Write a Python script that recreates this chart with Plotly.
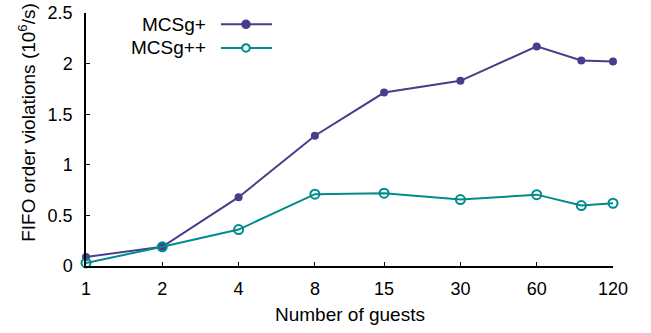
import plotly.graph_objects as go

guests = [1, 2, 4, 8, 15, 30, 60, 90, 120]
mcsg_plus = [0.09, 0.19, 0.68, 1.287, 1.714, 1.83, 2.17, 2.03, 2.02]
mcsg_plusplus = [0.03, 0.19, 0.36, 0.71, 0.72, 0.656, 0.705, 0.597, 0.62]
tick_vals = [1, 2, 4, 8, 15, 30, 60, 120]
tick_text = ["1", "2", "4", "8", "15", "30", "60", "120"]

PURPLE = "#483d8b"
TEAL = "#008b8b"
FONT = "Liberation Sans, Arial, sans-serif"

fig = go.Figure()
fig.add_trace(go.Scatter(
    x=guests, y=mcsg_plus, mode="lines+markers", name="MCSg+",
    line=dict(color=PURPLE, width=2),
    marker=dict(symbol="circle", size=8, color=PURPLE),
    cliponaxis=False, showlegend=False))
fig.add_trace(go.Scatter(
    x=guests, y=mcsg_plusplus, mode="lines+markers", name="MCSg++",
    line=dict(color=TEAL, width=2),
    marker=dict(symbol="circle-open", size=9, color=TEAL, line=dict(width=2)),
    cliponaxis=False, showlegend=False))

W, H = 651, 333
L, R, T, B = 86, 38, 13, 66.5
pw, ph = W - L - R, H - T - B

def px(xp):
    return (xp - L) / pw

def py(yp):
    return 1 - (yp - T) / ph

# custom legend (text on left, sample on right)
legend_items = [("MCSg+", PURPLE, 24.3, True), ("MCSg++", TEAL, 48, False)]
for name, col, yc, filled in legend_items:
    fig.add_annotation(x=px(208), y=py(yc), xref="paper", yref="paper",
                       text=name, showarrow=False, xanchor="right", yanchor="middle",
                       font=dict(size=19, color="black", family=FONT))
    fig.add_shape(type="line", xref="paper", yref="paper",
                  x0=px(221), x1=px(272), y0=py(yc), y1=py(yc),
                  line=dict(color=col, width=2))
    r = 3.8
    fig.add_shape(type="circle", xref="paper", yref="paper",
                  x0=px(246 - r), x1=px(246 + r), y0=py(yc - r), y1=py(yc + r),
                  line=dict(color=col, width=2),
                  fillcolor=col if filled else "white")

fig.add_annotation(x=px(27), y=py(123), xref="paper", yref="paper",
                   text="FIFO order violations (10<sup>6</sup>/s)", textangle=-90,
                   showarrow=False, xanchor="center", yanchor="middle",
                   font=dict(size=19, color="black", family=FONT))

fig.add_annotation(x=0.5, y=py(315), xref="paper", yref="paper",
                   text="Number of guests", showarrow=False,
                   xanchor="center", yanchor="middle",
                   font=dict(size=19, color="black", family=FONT))

fig.update_layout(
    width=W, height=H,
    margin=dict(l=L, r=R, t=T, b=B, pad=0),
    paper_bgcolor="white", plot_bgcolor="white",
    font=dict(family=FONT, size=18, color="black"),
    xaxis=dict(type="log", range=[0, 2.0792], tickvals=tick_vals, ticktext=tick_text,
               showgrid=False, zeroline=False, showline=True, linecolor="black",
               linewidth=1.5, ticks="inside", ticklen=4, tickcolor="black",
               ticklabelstandoff=6, automargin=False),
    yaxis=dict(range=[0, 2.5], dtick=0.5, showgrid=False, zeroline=False,
               showline=True, linecolor="black", linewidth=1.5, ticks="inside",
               ticklen=4, tickcolor="black", ticklabelstandoff=8, automargin=False),
)

fig.write_html("out.html", config={"displayModeBar": False},
               post_script="document.body.style.margin='0';document.body.style.overflow='hidden';")
